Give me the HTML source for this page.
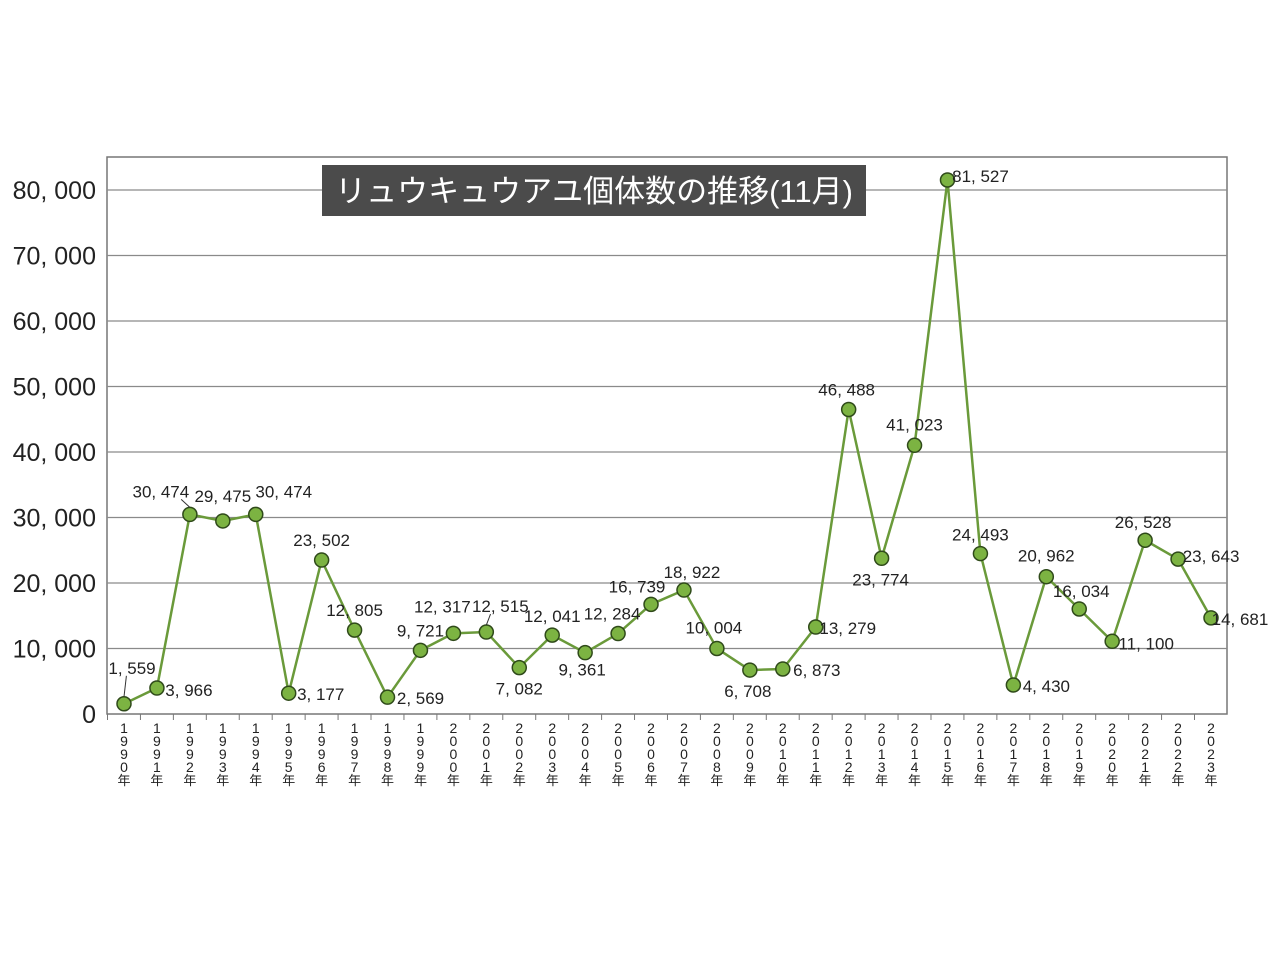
<!DOCTYPE html>
<html><head><meta charset="utf-8">
<style>
html,body{margin:0;padding:0;background:#fff;}
svg{display:block;}
text{font-family:"Liberation Sans Narrow","Liberation Sans","Noto Sans CJK JP",sans-serif;}
</style></head>
<body>
<svg id="chart" width="1280" height="960" viewBox="0 0 1280 960" xmlns="http://www.w3.org/2000/svg">
<rect x="107" y="157" width="1120" height="557" fill="#fff" stroke="#777" stroke-width="1.5"/>
<g id="grid"></g>
<g id="yaxis"></g>
<g id="xaxis"></g>
<g id="series"></g>
<g id="labels"></g>
<g>
<rect x="322" y="165" width="544" height="51" fill="#4b4b4b"/>
<text x="594" y="202" text-anchor="middle" fill="#fff" font-size="31" style='font-family:"Liberation Sans","Noto Sans CJK JP",sans-serif'>リュウキュウアユ個体数の推移(11月)</text>
</g>
</svg>
<script>
const years = ["1990","1991","1992","1993","1994","1995","1996","1997","1998","1999","2000","2001","2002","2003","2004","2005","2006","2007","2008","2009","2010","2011","2012","2013","2014","2015","2016","2017","2018","2019","2020","2021","2022","2023"];
const counts = [1559,3966,30474,29475,30474,3177,23502,12805,2569,9721,12317,12515,7082,12041,9361,12284,16739,18922,10004,6708,6873,13279,46488,23774,41023,81527,24493,4430,20962,16034,11100,26528,23643,14681];
const yTicks = [0,10000,20000,30000,40000,50000,60000,70000,80000];
const yTickLabels = ["0","10, 000","20, 000","30, 000","40, 000","50, 000","60, 000","70, 000","80, 000"];
// label placement offsets (styling)
const ldx=[8,32,-29,0,28,32,0,0,33,0,-11,14,0,0,-3,-6,-14,8,-3,-2,34,32,-2,-1,0,33,0,33,0,2,34,-2,33,29];
const ldy=[-36,2,-23,-25,-23,1,-20,-20,1,-20,-27,-26,21,-19,17,-20,-18,-18,-21,21,1,1,-20,21,-21,-4,-19,1,-21,-18,2,-18,-3,1];
const leaders=[0,2,11];

const NS="http://www.w3.org/2000/svg";
const x0=124,x1=1211,yb=714,yt=190;
const xs=i=>x0+(x1-x0)*i/(years.length-1);
const ys=v=>yb-(yb-yt)*v/80000;
function el(tag,attrs,parent){const e=document.createElementNS(NS,tag);for(const k in attrs)e.setAttribute(k,attrs[k]);parent.appendChild(e);return e;}
const grid=document.getElementById('grid'),yax=document.getElementById('yaxis'),xax=document.getElementById('xaxis'),ser=document.getElementById('series'),lab=document.getElementById('labels');
yTicks.forEach((t,i)=>{
  if(t>0){const g=el('line',{x1:107,x2:1227,y1:ys(t),y2:ys(t),stroke:'#8a8a8a','stroke-width':1.3},grid);
  
  }
  const tx=el('text',{x:96,y:ys(t)+9,'text-anchor':'end','font-size':25,fill:'#222'},yax);
  tx.textContent=yTickLabels[i];
  
  
});
years.forEach((y,i)=>{
  const x=xs(i);
  el('line',{x1:x-16.5,x2:x-16.5,y1:714,y2:720,stroke:'#777'},xax);
  const chars=(y+"年").split('');
  chars.forEach((c,j)=>{
    const t=el('text',{x:x,y:733+j*13,'text-anchor':'middle','font-size':c==='年'?13:14,fill:'#222'},xax);
    t.textContent=c;
    
    
  });
});
const pts=counts.map((v,i)=>xs(i)+','+ys(v)).join(' ');
const pl=el('polyline',{points:pts,fill:'none',stroke:'#6a9a3a','stroke-width':2.5},ser);


counts.forEach((v,i)=>{
  const x=xs(i),y=ys(v);
  if(leaders.includes(i)) el('line',{x1:x,y1:y-7,x2:x+ldx[i]*0.3,y2:y+ldy[i]+8,stroke:'#333','stroke-width':1},lab);
  const c=el('circle',{cx:x,cy:y,r:7,fill:'#7cb342',stroke:'#2f4a1a','stroke-width':1.5},ser);
  
  
  const t=el('text',{x:x+ldx[i],y:y+ldy[i]+6,'text-anchor':'middle','font-size':17,fill:'#222'},lab);
  t.textContent=v.toLocaleString('en-US').replace(',',', ');
  
  
});
</script>
</body></html>
